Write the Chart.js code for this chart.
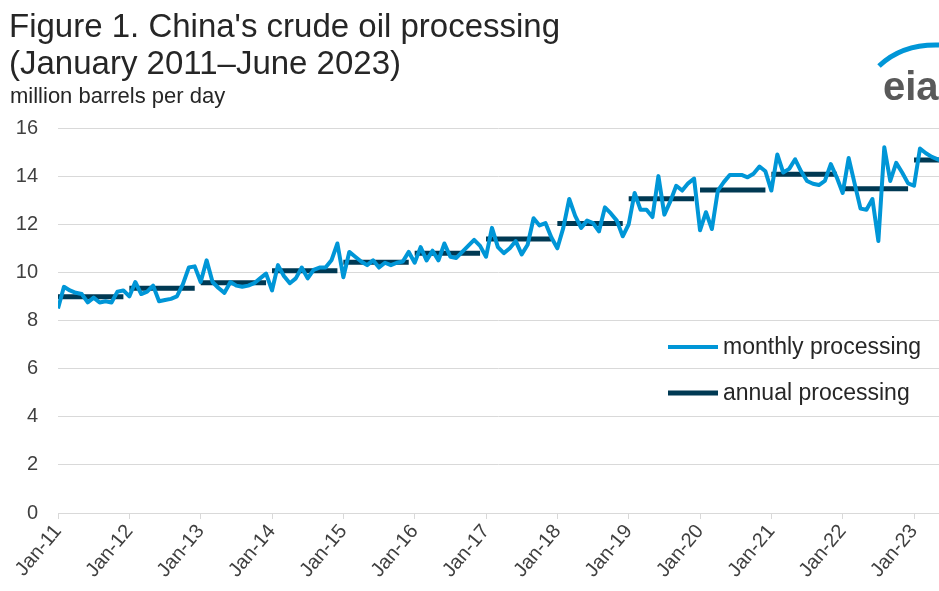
<!DOCTYPE html>
<html>
<head>
<meta charset="utf-8">
<script src="https://cdn.jsdelivr.net/npm/chart.js@4"></script>
<style>
  html, body { margin: 0; padding: 0; background: #fff; }
  #wrap { position: relative; width: 939px; height: 591px; overflow: hidden; font-family: "Liberation Sans", Arial, sans-serif; color: #262626; }
  #chart { position: absolute; left: 0; top: 0; }
  .title { position: absolute; left: 9px; top: 7px; font-size: 33px; line-height: 37px; white-space: nowrap; }
  .units { position: absolute; left: 10px; top: 85px; font-size: 22px; line-height: 22px; white-space: nowrap; }
  .logo { position: absolute; left: 868px; top: 40px; }
</style>
</head>
<body>
<div id="wrap">
  <canvas id="chart" width="939" height="591"></canvas>
  <div class="title">Figure 1. China's crude oil processing<br>(January 2011–June 2023)</div>
  <div class="units">million barrels per day</div>
  <svg class="logo" width="71" height="66" viewBox="0 0 71 66">
    <path d="M11 26 Q 34 4 71 5" fill="none" stroke="#0096d7" stroke-width="5"/>
    <text x="15" y="60" font-family="Liberation Sans, Arial, sans-serif" font-weight="bold" font-size="40" fill="#595959">eia</text>
  </svg>
</div>
<script>
// ---- data (million barrels per day) ----
const years = [2011, 2012, 2013, 2014, 2015, 2016, 2017, 2018, 2019, 2020, 2021, 2022, 2023];

// monthly processing, Jan 2011 - Jun 2023
const monthly2011 = [8.5, 9.4, 9.25, 9.15, 9.1, 8.75, 8.95, 8.75, 8.8, 8.75, 9.2, 9.25];
const monthly2012 = [9.0, 9.6, 9.1, 9.2, 9.45, 8.8, 8.85, 8.9, 9.0, 9.5, 10.2, 10.25];
const monthly2013 = [9.6, 10.5, 9.6, 9.35, 9.15, 9.6, 9.45, 9.4, 9.45, 9.55, 9.75, 9.95];
const monthly2014 = [9.25, 10.3, 9.85, 9.55, 9.75, 10.2, 9.75, 10.1, 10.2, 10.2, 10.5, 11.2];
const monthly2015 = [9.8, 10.85, 10.65, 10.45, 10.3, 10.5, 10.2, 10.4, 10.3, 10.4, 10.45, 10.85];
const monthly2016 = [10.4, 11.05, 10.5, 10.9, 10.5, 11.2, 10.65, 10.6, 10.85, 11.1, 11.35, 11.1];
const monthly2017 = [10.65, 11.85, 11.05, 10.8, 11.0, 11.3, 10.75, 11.15, 12.25, 11.95, 12.05, 11.45];
const monthly2018 = [11.0, 11.85, 13.05, 12.35, 11.85, 12.15, 12.05, 11.7, 12.7, 12.45, 12.15, 11.5];
const monthly2019 = [12.0, 13.3, 12.6, 12.6, 12.3, 14.0, 12.4, 12.95, 13.6, 13.4, 13.7, 13.9];
const monthly2020 = [11.75, 12.5, 11.8, 13.4, 13.75, 14.05, 14.05, 14.05, 13.95, 14.1, 14.4, 14.2];
const monthly2021 = [13.4, 14.9, 14.15, 14.3, 14.7, 14.2, 13.8, 13.68, 13.63, 13.8, 14.5, 13.95];
const monthly2022 = [13.3, 14.75, 13.7, 12.65, 12.6, 13.05, 11.3, 15.2, 13.8, 14.55, 14.15, 13.7];
const monthly2023 = [13.6, 15.15, 14.95, 14.8, 14.7, 14.6];

// annual processing (yearly average)
const annual = [8.99, 9.34, 9.57, 10.07, 10.42, 10.79, 11.39, 12.03, 13.06, 13.42, 14.08, 13.48, 14.67];

const xTickLabels = ['Jan-11', 'Jan-12', 'Jan-13', 'Jan-14', 'Jan-15', 'Jan-16', 'Jan-17',
  'Jan-18', 'Jan-19', 'Jan-20', 'Jan-21', 'Jan-22', 'Jan-23'];
const yTicks = [0, 2, 4, 6, 8, 10, 12, 14, 16];

const seriesNames = ['monthly processing', 'annual processing'];
const BLUE = '#0096d7';
const NAVY = '#003953';

// ---- build points (x = months since Jan 2011) ----
const monthly = [].concat(monthly2011, monthly2012, monthly2013, monthly2014, monthly2015,
  monthly2016, monthly2017, monthly2018, monthly2019, monthly2020, monthly2021,
  monthly2022, monthly2023);
const monthlyPts = monthly.map((v, i) => ({ x: i, y: v }));

const annualPts = [];
years.forEach((yr, k) => {
  const start = k * 12;
  const end = yr === 2023 ? start + monthly2023.length - 1 : start + 11;
  annualPts.push({ x: start, y: annual[k] }, { x: end, y: annual[k] }, { x: end + 0.5, y: null });
});

// legend drawn inside the plot, right side
const insideLegend = {
  id: 'insideLegend',
  afterDraw(chart) {
    const { ctx, chartArea } = chart;
    const x0 = chartArea.right - 271;
    const rows = [chartArea.top + 219, chartArea.top + 265];
    ctx.save();
    ctx.font = '23px "Liberation Sans", Arial, sans-serif';
    ctx.textBaseline = 'middle';
    chart.data.datasets.forEach((ds, i) => {
      const y = rows[i];
      ctx.strokeStyle = ds.borderColor;
      ctx.lineWidth = ds.borderWidth;
      ctx.beginPath();
      ctx.moveTo(x0, y);
      ctx.lineTo(x0 + 50, y);
      ctx.stroke();
      ctx.fillStyle = '#262626';
      ctx.fillText(ds.label, x0 + 55, y + 1);
    });
    ctx.restore();
  }
};

new Chart(document.getElementById('chart'), {
  type: 'line',
  data: {
    datasets: [
      {
        label: seriesNames[0],
        data: monthlyPts,
        borderColor: BLUE,
        borderWidth: 4,
        borderJoinStyle: 'round',
        pointRadius: 0,
        tension: 0
      },
      {
        label: seriesNames[1],
        data: annualPts,
        borderColor: NAVY,
        borderWidth: 5,
        borderCapStyle: 'butt',
        pointRadius: 0,
        spanGaps: false,
        tension: 0
      }
    ]
  },
  options: {
    responsive: false,
    animation: false,
    layout: { padding: { top: 128, left: 0, right: 0, bottom: 0 } },
    plugins: {
      legend: { display: false },
      tooltip: { enabled: false }
    },
    scales: {
      x: {
        type: 'linear',
        min: 0,
        max: 148.2,
        afterBuildTicks: s => { s.ticks = xTickLabels.map((_, i) => ({ value: i * 12 })); },
        afterFit: s => { s.height = 78; },
        grid: { drawOnChartArea: false, drawTicks: true, tickLength: 6, color: '#d9d9d9' },
        border: { display: true, color: '#d9d9d9' },
        ticks: {
          autoSkip: false,
          minRotation: 50,
          maxRotation: 50,
          padding: 1,
          color: '#404040',
          font: { family: '"Liberation Sans", Arial, sans-serif', size: 20 },
          callback: (v, i) => xTickLabels[i]
        }
      },
      y: {
        min: 0,
        max: 16,
        afterBuildTicks: s => { s.ticks = yTicks.map(v => ({ value: v })); },
        afterFit: s => { s.width = 58; },
        grid: { color: '#d9d9d9', drawTicks: false },
        border: { display: false },
        ticks: {
          padding: 20,
          color: '#404040',
          font: { family: '"Liberation Sans", Arial, sans-serif', size: 20 }
        }
      }
    }
  },
  plugins: [insideLegend]
});
</script>
</body>
</html>
